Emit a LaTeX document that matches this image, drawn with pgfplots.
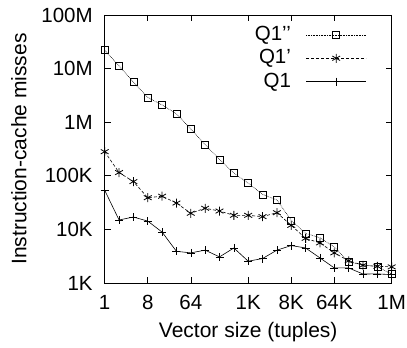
\documentclass[border=0pt]{standalone}
\usepackage{fontspec}
\setmainfont{Liberation Sans}
\usepackage{pgfplots}
\pgfplotsset{compat=1.18}
\begin{document}
\fontsize{20.5bp}{24bp}\selectfont
\begin{tikzpicture}
\begin{axis}[
  name=ax,
  scale only axis,
  width=287bp, height=268bp,
  xmode=log, log basis x=2,
  ymode=log,
  xmin=1, xmax=1048576,
  ymin=1000, ymax=1e8,
  xtick={1,8,64,1024,8192,65536,1048576},
  xticklabels={1,8,64,1K,8K,64K,1M},
  ytick={1e3,1e4,1e5,1e6,1e7,1e8},
  yticklabels={1K,10K,100K,1M,10M,100M},
  minor tick num=0,
  tick align=inside,
  major tick length=6bp,
  minor tick length=0bp,
  tick style={black, line width=0.6pt},
  axis line style={black, line width=0.8pt},
  xticklabel style={font=\fontsize{20.5bp}{24bp}\selectfont, yshift=-5bp},
  yticklabel style={font=\fontsize{20.5bp}{24bp}\selectfont, xshift=-5bp},
  /pgf/number format/assume math mode=true,
  xlabel={Vector size (tuples)},
  ylabel={Instruction-cache misses},
  label style={font=\fontsize{21bp}{25bp}\selectfont},
  xlabel style={yshift=1bp},
  ylabel style={yshift=1bp},
  legend style={draw=none, fill=none, at={(1,1)}, anchor=north east, xshift=-24bp, yshift=-8bp,
    font=\fontsize{20.5bp}{24bp}\selectfont, row sep=2bp, inner sep=1bp,
    /tikz/every odd column/.append style={column sep=13bp}},
  legend cell align=right,
  legend plot pos=right,
  legend image code/.code={%
    \draw[#1, mark repeat=2, mark phase=2] plot coordinates {(0bp,0bp) (30bp,0bp) (60bp,0bp)};},
  clip=false,
]
\addplot[black, line width=0.6pt, densely dotted, mark=square, mark size=3.5bp, mark options={solid, line width=0.7pt}] coordinates {
(1,22e6) (2,11.2e6) (4,5.6e6) (8,2.9e6) (16,2.1e6) (32,1.43e6) (64,750e3) (128,381e3)
(256,202e3) (512,112e3) (1024,73e3) (2048,45e3) (4096,35.5e3) (8192,14.7e3) (16384,8.4e3)
(32768,7e3) (65536,4.7e3) (131072,2.44e3) (262144,2.2e3) (524288,2e3) (1048576,1.47e3)};
\addlegendentry{Q1’’}
\addplot[black, line width=0.6pt, dashed, dash pattern=on 3bp off 2bp, mark=asterisk, mark size=4.5bp, mark options={solid, line width=0.8pt}] coordinates {
(1,282e3) (2,115e3) (4,78e3) (8,39e3) (16,41.6e3) (32,31e3) (64,20e3) (128,24.8e3)
(256,22e3) (512,18.3e3) (1024,18.3e3) (2048,17.3e3) (4096,20.5e3) (8192,11.9e3) (16384,6.8e3)
(32768,5.6e3) (65536,3.65e3) (131072,2.6e3) (262144,2.14e3) (524288,2.05e3) (1048576,2e3)};
\addlegendentry{Q1’}
\addplot[black, line width=0.6pt, mark=+, mark size=4bp, mark options={solid, line width=0.6pt}] coordinates {
(1,53.8e3) (2,15e3) (4,17e3) (8,14.3e3) (16,8.9e3) (32,3.9e3) (64,3.65e3) (128,4.1e3)
(256,3.07e3) (512,4.5e3) (1024,2.55e3) (2048,2.86e3) (4096,4.1e3) (8192,5e3) (16384,4.5e3)
(32768,2.94e3) (65536,1.91e3) (131072,1.91e3) (262144,1.47e3) (524288,1.48e3) (1048576,1.43e3)};
\addlegendentry{Q1}
\coordinate (sw) at (rel axis cs:0,0);
\coordinate (ne) at (rel axis cs:1,1);
\end{axis}
\pgfresetboundingbox
\path ([xshift=-104.7bp,yshift=-64.3bp]sw) rectangle ([xshift=15.3bp,yshift=15bp]ne);
\end{tikzpicture}
\end{document}
